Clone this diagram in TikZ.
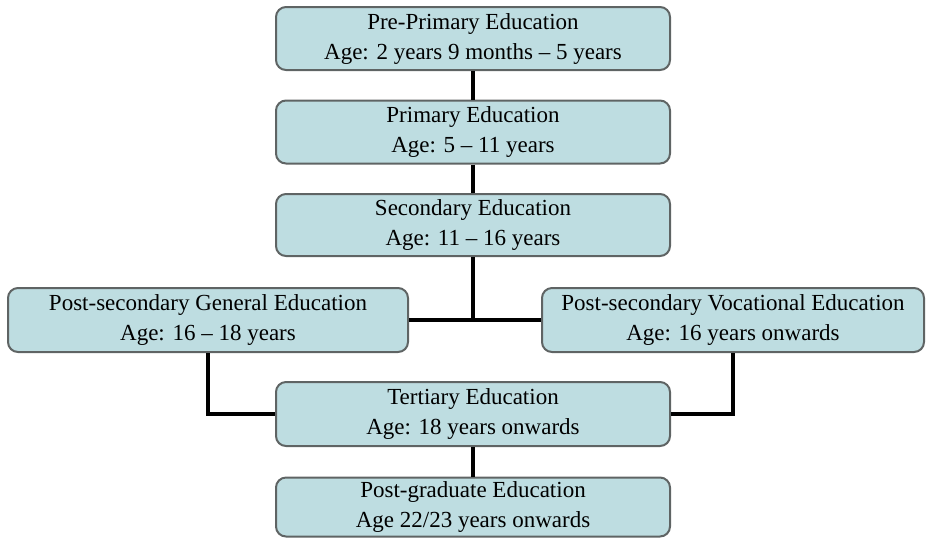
\documentclass[tikz,border=0pt]{standalone}
\usepackage{fontspec}
\setmainfont{Liberation Serif}
\definecolor{boxfill}{RGB}{190,221,225}
\definecolor{boxline}{RGB}{95,100,100}
\tikzset{
  stage/.style={draw=boxline, line width=1pt, fill=boxfill, rounded corners=5pt,
    align=center, inner sep=0pt, font=\fontsize{11.5}{15}\selectfont},
  link/.style={line width=1.6pt, black}
}
\begin{document}
\begin{tikzpicture}[x=0.5pt,y=0.5pt]
\useasboundingbox (0,0) rectangle (931,-538);
\node [stage, minimum width=197pt, minimum height=31.5pt] (pre) at (473,-38.5) {Pre-Primary Education\\Age: 2 years 9 months -- 5 years};
\node [stage, minimum width=197pt, minimum height=31.5pt] (prim) at (473,-132) {Primary Education\\Age: 5 -- 11 years};
\node [stage, minimum width=197pt, minimum height=31pt] (sec) at (473,-225) {Secondary Education\\Age: 11 -- 16 years};
\node [stage, minimum width=200pt, minimum height=32pt] (gen) at (208,-320) {Post-secondary General Education\\Age: 16 -- 18 years};
\node [stage, minimum width=191pt, minimum height=32pt] (voc) at (733,-320) {Post-secondary Vocational Education\\Age: 16 years onwards};
\node [stage, minimum width=197pt, minimum height=32pt] (ter) at (473,-414) {Tertiary Education\\Age: 18 years onwards};
\node [stage, minimum width=197pt, minimum height=29.5pt] (post) at (473,-507) {Post-graduate Education\\Age 22/23 years onwards};

\coordinate (split) at (sec.south |- gen.east);
\draw [link] (pre) -- (prim);
\draw [link] (prim) -- (sec);
\draw [link] (sec) -- (split);
\draw [link] (gen.east) -- (voc.west);
\draw [link] (gen.south) |- (ter.west);
\draw [link] (voc.south) |- (ter.east);
\draw [link] (ter) -- (post);
\end{tikzpicture}
\end{document}
